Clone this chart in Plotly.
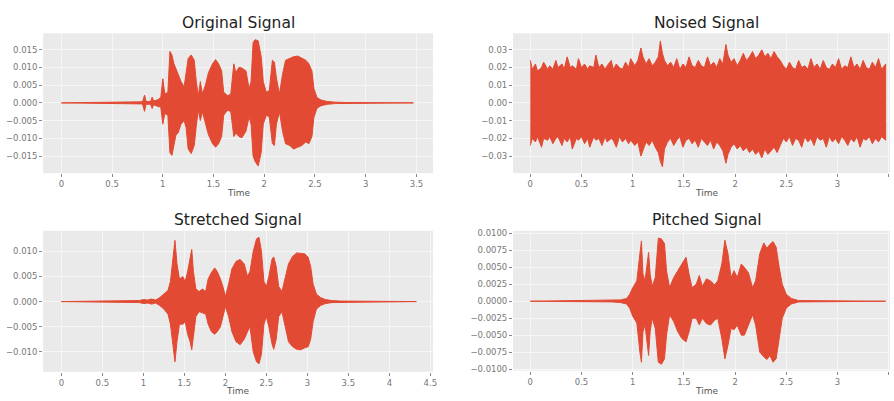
import plotly.graph_objects as go

# ---------------- DATA (envelopes) ----------------
orig_t = [0.00, 0.80, 0.82, 0.835, 0.88, 0.895, 0.91, 0.95, 0.98, 1.00, 1.02, 1.05, 1.07, 1.09, 1.11, 1.13,
          1.15, 1.18, 1.21, 1.23, 1.25, 1.28, 1.31, 1.33, 1.35, 1.37, 1.39, 1.42, 1.45, 1.49, 1.52, 1.55,
          1.58, 1.60, 1.64, 1.67, 1.70, 1.72, 1.75, 1.78, 1.82, 1.85, 1.87, 1.89, 1.91, 1.94, 1.97, 1.99,
          2.02, 2.05, 2.08, 2.10, 2.12, 2.15, 2.18, 2.21, 2.25, 2.29, 2.33, 2.37, 2.41, 2.44, 2.47, 2.49,
          2.52, 2.56, 2.62, 2.70, 2.80, 3.47]
orig_up = [0.0, 0.0003, 0.0022, 0.0004, 0.0004, 0.0016, 0.0005, 0.0009, 0.0015, 0.0068, 0.0025, 0.0030,
           0.0145, 0.0135, 0.0110, 0.0095, 0.0080, 0.0060, 0.0045, 0.0080, 0.0125, 0.0135, 0.0120, 0.0060,
           0.0020, 0.0060, 0.0025, 0.0050, 0.0085, 0.0110, 0.0122, 0.0110, 0.0090, 0.0030, 0.0020, 0.0025,
           0.0110, 0.0085, 0.0100, 0.0098, 0.0090, 0.0040, 0.0060, 0.0170, 0.0178, 0.0175, 0.0130, 0.0060,
           0.0030, 0.0035, 0.0120, 0.0115, 0.0070, 0.0025, 0.0080, 0.0120, 0.0125, 0.0130, 0.0132, 0.0125,
           0.0120, 0.0110, 0.0090, 0.0040, 0.0015, 0.0008, 0.0004, 0.0002, 0.0001, 0.0]
orig_lo = [0.0, -0.0003, -0.0024, -0.0004, -0.0004, -0.0016, -0.0005, -0.0010, -0.0012, -0.0060, -0.0030,
           -0.0035, -0.0140, -0.0148, -0.0120, -0.0090, -0.0085, -0.0060, -0.0050, -0.0070, -0.0130, -0.0143,
           -0.0120, -0.0065, -0.0020, -0.0050, -0.0025, -0.0055, -0.0090, -0.0115, -0.0125, -0.0115, -0.0095,
           -0.0035, -0.0020, -0.0025, -0.0095, -0.0085, -0.0095, -0.0098, -0.0080, -0.0040, -0.0060, -0.0150,
           -0.0165, -0.0178, -0.0140, -0.0060, -0.0035, -0.0040, -0.0115, -0.0120, -0.0060, -0.0025, -0.0080,
           -0.0115, -0.0120, -0.0130, -0.0125, -0.0120, -0.0110, -0.0115, -0.0095, -0.0040, -0.0015, -0.0008,
           -0.0004, -0.0002, -0.0001, 0.0]

noise_t = [0.00, 0.02, 0.05, 0.07, 0.11, 0.13, 0.17, 0.19, 0.22, 0.25, 0.27, 0.31, 0.33, 0.36, 0.39, 0.41,
           0.45, 0.47, 0.50, 0.53, 0.56, 0.58, 0.62, 0.64, 0.67, 0.70, 0.73, 0.75, 0.79, 0.81, 0.84, 0.87,
           0.90, 0.93, 0.96, 0.98, 1.02, 1.05, 1.08, 1.10, 1.13, 1.16, 1.19, 1.22, 1.25, 1.27, 1.29, 1.31,
           1.34, 1.37, 1.40, 1.43, 1.46, 1.49, 1.52, 1.55, 1.58, 1.61, 1.64, 1.67, 1.70, 1.73, 1.76, 1.79,
           1.82, 1.85, 1.88, 1.91, 1.93, 1.96, 1.99, 2.02, 2.05, 2.08, 2.11, 2.14, 2.17, 2.20, 2.23, 2.26,
           2.29, 2.32, 2.35, 2.38, 2.41, 2.44, 2.47, 2.50, 2.53, 2.56, 2.59, 2.62, 2.65, 2.68, 2.71, 2.74,
           2.77, 2.80, 2.83, 2.86, 2.89, 2.92, 2.95, 2.98, 3.01, 3.04, 3.07, 3.10, 3.13, 3.16, 3.19, 3.22,
           3.25, 3.28, 3.31, 3.34, 3.37, 3.40, 3.43, 3.47]
noise_up = [0.024, 0.019, 0.022, 0.018, 0.020, 0.023, 0.019, 0.021, 0.019, 0.024, 0.020, 0.022, 0.019, 0.026,
            0.020, 0.021, 0.019, 0.025, 0.020, 0.022, 0.019, 0.021, 0.020, 0.027, 0.020, 0.022, 0.019, 0.021,
            0.024, 0.019, 0.022, 0.020, 0.019, 0.023, 0.020, 0.025, 0.021, 0.024, 0.031, 0.026, 0.022, 0.025,
            0.021, 0.023, 0.026, 0.035, 0.028, 0.024, 0.021, 0.023, 0.020, 0.025, 0.019, 0.022, 0.020, 0.026,
            0.021, 0.020, 0.024, 0.021, 0.020, 0.026, 0.021, 0.023, 0.020, 0.025, 0.022, 0.033, 0.027, 0.023,
            0.025, 0.021, 0.024, 0.028, 0.024, 0.026, 0.029, 0.025, 0.027, 0.030, 0.026, 0.028, 0.025, 0.029,
            0.026, 0.024, 0.021, 0.019, 0.023, 0.020, 0.019, 0.024, 0.020, 0.021, 0.019, 0.025, 0.020, 0.022,
            0.019, 0.024, 0.020, 0.019, 0.022, 0.020, 0.025, 0.019, 0.021, 0.020, 0.026, 0.020, 0.022, 0.019,
            0.024, 0.020, 0.019, 0.023, 0.020, 0.025, 0.019, 0.022]
noise_lo = [-0.024, -0.020, -0.022, -0.019, -0.025, -0.020, -0.021, -0.019, -0.023, -0.020, -0.019, -0.024,
            -0.020, -0.022, -0.019, -0.026, -0.020, -0.021, -0.019, -0.023, -0.020, -0.025, -0.019, -0.021,
            -0.020, -0.024, -0.019, -0.022, -0.020, -0.021, -0.025, -0.019, -0.022, -0.020, -0.023, -0.021,
            -0.024, -0.022, -0.030, -0.027, -0.022, -0.024, -0.021, -0.025, -0.028, -0.033, -0.036, -0.026,
            -0.022, -0.020, -0.024, -0.021, -0.019, -0.025, -0.021, -0.020, -0.023, -0.021, -0.025, -0.020,
            -0.022, -0.024, -0.021, -0.026, -0.022, -0.024, -0.027, -0.034, -0.029, -0.025, -0.023, -0.026,
            -0.024, -0.027, -0.025, -0.028, -0.026, -0.029, -0.027, -0.031, -0.026, -0.029, -0.027, -0.025,
            -0.028, -0.024, -0.020, -0.022, -0.019, -0.024, -0.020, -0.021, -0.025, -0.019, -0.022, -0.020,
            -0.024, -0.019, -0.021, -0.020, -0.025, -0.019, -0.022, -0.020, -0.023, -0.019, -0.021, -0.024,
            -0.020, -0.022, -0.019, -0.025, -0.020, -0.021, -0.019, -0.023, -0.020, -0.022, -0.019, -0.021]

str_t = [0.00, 0.95, 1.00, 1.05, 1.10, 1.15, 1.20, 1.25, 1.30, 1.33, 1.36, 1.385, 1.41, 1.44, 1.48, 1.51,
         1.54, 1.57, 1.59, 1.61, 1.64, 1.68, 1.72, 1.76, 1.79, 1.83, 1.87, 1.90, 1.94, 1.97, 2.00, 2.04,
         2.08, 2.13, 2.18, 2.23, 2.27, 2.30, 2.34, 2.38, 2.41, 2.44, 2.47, 2.50, 2.53, 2.57, 2.59, 2.62,
         2.65, 2.69, 2.73, 2.77, 2.82, 2.87, 2.92, 2.97, 3.01, 3.04, 3.07, 3.11, 3.16, 3.22, 3.30, 3.40, 4.33]
str_up = [0.0, 0.0002, 0.0004, 0.0003, 0.0005, 0.0003, 0.0008, 0.0015, 0.0022, 0.0040, 0.0090, 0.0122,
          0.0075, 0.0045, 0.0050, 0.0040, 0.0060, 0.0085, 0.0104, 0.0060, 0.0025, 0.0020, 0.0025, 0.0020,
          0.0045, 0.0058, 0.0067, 0.0060, 0.0045, 0.0030, 0.0010, 0.0035, 0.0065, 0.0080, 0.0084, 0.0075,
          0.0050, 0.0060, 0.0100, 0.0125, 0.0128, 0.0100, 0.0040, 0.0030, 0.0050, 0.0085, 0.0089, 0.0070,
          0.0030, 0.0020, 0.0050, 0.0075, 0.0090, 0.0097, 0.0096, 0.0095, 0.0088, 0.0070, 0.0035, 0.0015,
          0.0008, 0.0004, 0.0002, 0.0001, 0.0]
str_lo = [0.0, -0.0002, -0.0004, -0.0003, -0.0005, -0.0003, -0.0008, -0.0015, -0.0025, -0.0045, -0.0085,
          -0.0120, -0.0080, -0.0045, -0.0045, -0.0040, -0.0065, -0.0080, -0.0096, -0.0065, -0.0030, -0.0020,
          -0.0022, -0.0025, -0.0045, -0.0060, -0.0065, -0.0060, -0.0050, -0.0030, -0.0010, -0.0030, -0.0060,
          -0.0080, -0.0086, -0.0075, -0.0060, -0.0050, -0.0100, -0.0120, -0.0124, -0.0105, -0.0045, -0.0030,
          -0.0050, -0.0085, -0.0095, -0.0075, -0.0030, -0.0020, -0.0050, -0.0080, -0.0090, -0.0095, -0.0096,
          -0.0092, -0.0090, -0.0075, -0.0040, -0.0015, -0.0008, -0.0004, -0.0002, -0.0001, 0.0]

pitch_t = [0.00, 0.80, 0.88, 0.94, 0.97, 1.00, 1.04, 1.07, 1.085, 1.10, 1.12, 1.155, 1.17, 1.19, 1.22, 1.25,
           1.28, 1.31, 1.33, 1.36, 1.40, 1.44, 1.48, 1.52, 1.55, 1.58, 1.62, 1.65, 1.68, 1.72, 1.76, 1.80,
           1.83, 1.87, 1.90, 1.93, 1.96, 1.99, 2.02, 2.06, 2.09, 2.13, 2.17, 2.20, 2.24, 2.28, 2.31, 2.34,
           2.37, 2.40, 2.43, 2.46, 2.50, 2.55, 2.62, 3.47]
pitch_up = [0.0, 0.0001, 0.0002, 0.0004, 0.0010, 0.0020, 0.0030, 0.0070, 0.0089, 0.0040, 0.0030, 0.0072,
            0.0040, 0.0022, 0.0035, 0.0093, 0.0092, 0.0085, 0.0045, 0.0020, 0.0035, 0.0045, 0.0055, 0.0065,
            0.0040, 0.0020, 0.0025, 0.0038, 0.0022, 0.0033, 0.0030, 0.0024, 0.0030, 0.0055, 0.0090, 0.0070,
            0.0035, 0.0045, 0.0035, 0.0055, 0.0050, 0.0042, 0.0020, 0.0030, 0.0070, 0.0086, 0.0078, 0.0084,
            0.0088, 0.0080, 0.0050, 0.0025, 0.0010, 0.0004, 0.0001, 0.0]
pitch_lo = [0.0, -0.0001, -0.0002, -0.0004, -0.0010, -0.0022, -0.0032, -0.0075, -0.0090, -0.0045, -0.0035,
            -0.0080, -0.0045, -0.0025, -0.0040, -0.0090, -0.0093, -0.0085, -0.0050, -0.0020, -0.0030, -0.0045,
            -0.0055, -0.0060, -0.0045, -0.0025, -0.0025, -0.0035, -0.0025, -0.0033, -0.0035, -0.0028, -0.0025,
            -0.0055, -0.0085, -0.0065, -0.0040, -0.0042, -0.0035, -0.0050, -0.0050, -0.0035, -0.0020, -0.0035,
            -0.0075, -0.0082, -0.0086, -0.0080, -0.0090, -0.0085, -0.0055, -0.0025, -0.0010, -0.0004, -0.0001, 0.0]

titles = ["Original Signal", "Noised Signal", "Stretched Signal", "Pitched Signal"]
x_label = "Time"

x_ticks_a = [0, 0.5, 1, 1.5, 2, 2.5, 3, 3.5]
x_ticktext_a = ["0", "0.5", "1", "1.5", "2", "2.5", "3", "3.5"]
x_ticks_b = [0, 0.5, 1, 1.5, 2, 2.5, 3, 3.5, 4, 4.5]
x_ticktext_b = ["0", "0.5", "1", "1.5", "2", "2.5", "3", "3.5", "4", "4.5"]

y_ticks_orig = [-0.015, -0.010, -0.005, 0.0, 0.005, 0.010, 0.015]
y_text_orig = ["\u22120.015", "\u22120.010", "\u22120.005", "0.000", "0.005", "0.010", "0.015"]
y_ticks_noise = [-0.03, -0.02, -0.01, 0.0, 0.01, 0.02, 0.03]
y_text_noise = ["\u22120.03", "\u22120.02", "\u22120.01", "0.00", "0.01", "0.02", "0.03"]
y_ticks_str = [-0.010, -0.005, 0.0, 0.005, 0.010]
y_text_str = ["\u22120.010", "\u22120.005", "0.000", "0.005", "0.010"]
y_ticks_pitch = [-0.0100, -0.0075, -0.0050, -0.0025, 0.0, 0.0025, 0.0050, 0.0075, 0.0100]
y_text_pitch = ["\u22120.0100", "\u22120.0075", "\u22120.0050", "\u22120.0025", "0.0000",
                "0.0025", "0.0050", "0.0075", "0.0100"]

# ---------------- STYLE / LAYOUT ----------------
W, H = 894, 401
RED = "#E24A33"
BG = "#EAEAEA"
FONT = "DejaVu Sans"


def px_x(p):
    return p / W


def px_y(p):
    return 1 - p / H


panels = [
    dict(t=orig_t, up=orig_up, lo=orig_lo, dom_x=[43.3, 435], dom_y=[31.7, 173.3],
         xr=[-0.180, 3.664], yr=[-0.0198, 0.0196], xt=x_ticks_a, xtt=x_ticktext_a,
         yt=y_ticks_orig, ytt=y_text_orig, tx=239.5, ty=21, lx=240, ly=193),
    dict(t=noise_t, up=noise_up, lo=noise_lo, dom_x=[515.3, 894], dom_y=[31.7, 173.3],
         xr=[-0.169, 3.512], yr=[-0.0396, 0.0393], xt=x_ticks_a, xtt=x_ticktext_a,
         yt=y_ticks_noise, ytt=y_text_noise, tx=710, ty=21, lx=710, ly=193),
    dict(t=str_t, up=str_up, lo=str_lo, dom_x=[43.3, 435], dom_y=[231.7, 374.5],
         xr=[-0.223, 4.533], yr=[-0.0140, 0.0141], xt=x_ticks_b, xtt=x_ticktext_b,
         yt=y_ticks_str, ytt=y_text_str, tx=239.5, ty=221, lx=239, ly=394),
    dict(t=pitch_t, up=pitch_up, lo=pitch_lo, dom_x=[515.3, 894], dom_y=[231.7, 373.3],
         xr=[-0.169, 3.512], yr=[-0.01024, 0.01039], xt=x_ticks_a, xtt=x_ticktext_a,
         yt=y_ticks_pitch, ytt=y_text_pitch, tx=710, ty=221, lx=710, ly=394),
]

fig = go.Figure()
annotations = []
for i, p in enumerate(panels):
    n = "" if i == 0 else str(i + 1)
    xs = list(p["t"]) + list(reversed(p["t"]))
    ys = list(p["up"]) + list(reversed(p["lo"]))
    fig.add_trace(go.Scatter(
        x=xs, y=ys, mode="lines", fill="toself", fillcolor=RED,
        line=dict(color=RED, width=1), hoverinfo="skip", showlegend=False,
        xaxis="x" + n, yaxis="y" + n))
    axis_common = dict(showgrid=True, gridcolor="#F6F6F6", gridwidth=0.8, zeroline=False,
                       showline=False, ticks="outside", ticklen=3, tickcolor="#888",
                       tickfont=dict(family=FONT, size=8.5, color="#777"))
    fig.layout["xaxis" + n] = dict(
        domain=[px_x(p["dom_x"][0]), px_x(p["dom_x"][1])], range=p["xr"],
        anchor="y" + n, tickmode="array", tickvals=p["xt"], ticktext=p["xtt"], **axis_common)
    fig.layout["yaxis" + n] = dict(
        domain=[px_y(p["dom_y"][1]), px_y(p["dom_y"][0])], range=p["yr"],
        anchor="x" + n, tickmode="array", tickvals=p["yt"], ticktext=p["ytt"], **axis_common)
    annotations.append(dict(text=titles[i], x=px_x(p["tx"]), y=px_y(p["ty"]), xref="paper",
                            yref="paper", showarrow=False, xanchor="center", yanchor="middle",
                            font=dict(family=FONT, size=15.5, color="#222")))
    annotations.append(dict(text=x_label, x=px_x(p["lx"]), y=px_y(p["ly"]), xref="paper",
                            yref="paper", showarrow=False, xanchor="center", yanchor="middle",
                            font=dict(family=FONT, size=9, color="#555")))

fig.update_layout(
    width=W, height=H, margin=dict(l=0, r=0, t=0, b=0),
    paper_bgcolor="white", plot_bgcolor=BG, annotations=annotations,
    font=dict(family=FONT), showlegend=False)

fig.write_html("out.html", config={"displayModeBar": False},
               post_script="document.body.style.margin='0';document.body.style.padding='0';"
                           "document.body.style.overflow='hidden';")
